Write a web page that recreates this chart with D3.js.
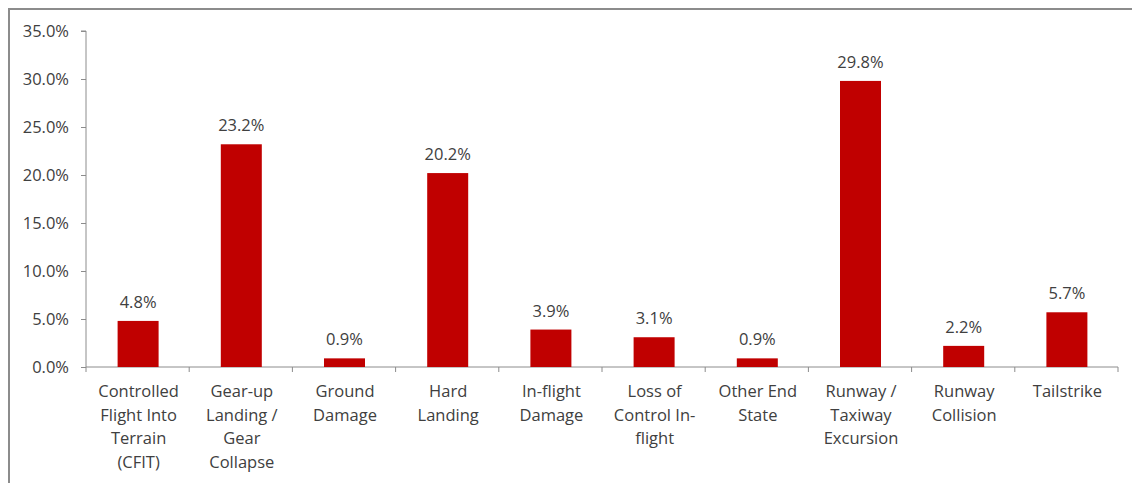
<!DOCTYPE html>
<html><head><meta charset="utf-8">
<script src="https://cdn.jsdelivr.net/npm/d3@7"></script>
<style>body{margin:0;background:#fff}svg{display:block}text{font-family:"Open Sans",sans-serif;fill:#404040}</style>
</head><body><svg id="c" width="1132" height="483"></svg>
<script>
const categories = [
  ["Controlled","Flight Into","Terrain","(CFIT)"],
  ["Gear-up","Landing /","Gear","Collapse"],
  ["Ground","Damage"],
  ["Hard","Landing"],
  ["In-flight","Damage"],
  ["Loss of","Control In-","flight"],
  ["Other End","State"],
  ["Runway /","Taxiway","Excursion"],
  ["Runway","Collision"],
  ["Tailstrike"]
];
const values = [4.8, 23.2, 0.9, 20.2, 3.9, 3.1, 0.9, 29.8, 2.2, 5.7];
const yTicks = [0, 5, 10, 15, 20, 25, 30, 35];

const svg = d3.select("#c");
// outer frame (top & left)
svg.append("path").attr("d","M9,483 V9 H1132").attr("fill","none").attr("stroke","#8c8c8c").attr("stroke-width",2);

const x0 = 86, x1 = 1118, yTop = 31, yBot = 367;
const fs = 16.5;
const x = d3.scaleBand().domain(d3.range(values.length)).range([x0, x1]).paddingInner(0).paddingOuter(0);
const y = d3.scaleLinear().domain([0, 35]).range([yBot, yTop]);

// y axis
const ya = svg.append("g").attr("transform",`translate(${x0},0)`)
  .call(d3.axisLeft(y).tickValues(yTicks).tickSize(5).tickPadding(12).tickFormat(d => d.toFixed(1) + "%"));
ya.select(".domain").attr("stroke","#8c8c8c").attr("d",`M-5,${yTop}H0V${yBot}`);
ya.selectAll(".tick line").attr("stroke","#8c8c8c");
ya.selectAll(".tick text").attr("font-size",fs).attr("fill","#404040").attr("font-family","'Open Sans',sans-serif");

// x axis
const xa = svg.append("g").attr("transform",`translate(0,${yBot})`);
xa.append("line").attr("x1",x0).attr("x2",x1).attr("stroke","#8c8c8c");
const bounds = d3.range(values.length + 1).map(i => i < values.length ? x(i) : x1);
xa.selectAll("line.t").data(bounds).join("line").attr("class","t")
  .attr("x1",d=>d).attr("x2",d=>d).attr("y1",0).attr("y2",5).attr("stroke","#8c8c8c");

// bars
const bw = 41;
svg.selectAll("rect.bar").data(values).join("rect").attr("class","bar")
  .attr("x",(d,i)=>x(i)+x.bandwidth()/2 - bw/2 + 0.5)
  .attr("width",bw)
  .attr("y",d=>y(d))
  .attr("height",d=>yBot - y(d))
  .attr("fill","#c00000");

// value labels
svg.selectAll("text.val").data(values).join("text").attr("class","val")
  .attr("x",(d,i)=>x(i)+x.bandwidth()/2 + 0.5)
  .attr("y",d=>y(d) - 13)
  .attr("text-anchor","middle").attr("font-size",fs)
  .text(d=>d.toFixed(1)+"%");

// category labels
const cl = svg.selectAll("text.cat").data(categories).join("text").attr("class","cat")
  .attr("text-anchor","middle").attr("font-size",fs)
  .attr("transform",(d,i)=>`translate(${x(i)+x.bandwidth()/2 + 1},397)`);
cl.selectAll("tspan").data(d=>d).join("tspan")
  .attr("x",0).attr("y",(d,i)=>i*23.6).text(d=>d);
</script></body></html>
